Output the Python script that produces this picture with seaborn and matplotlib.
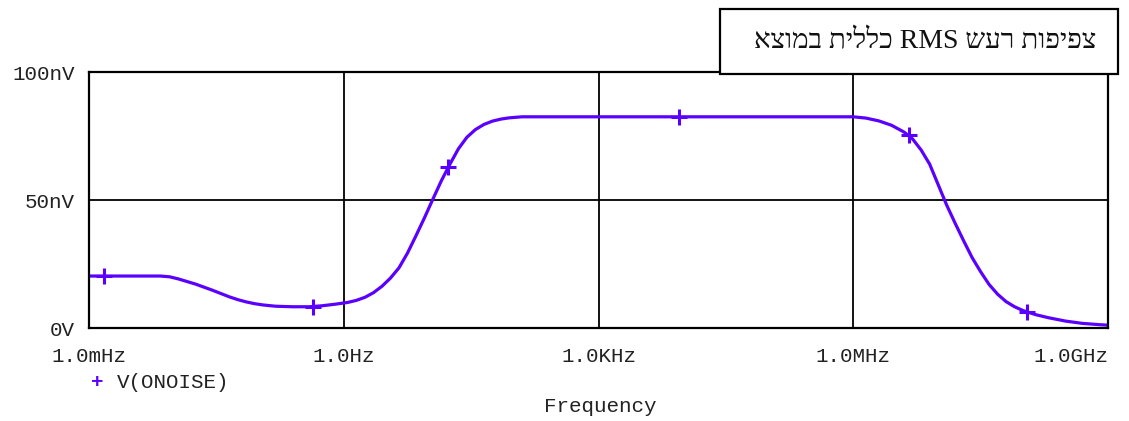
import matplotlib
matplotlib.use("Agg")
import matplotlib.pyplot as plt
from matplotlib.patches import Rectangle
import seaborn as sns

# output noise curve (Hz, nV)
freq_hz = [0.001, 0.0069, 0.0089, 0.0112, 0.0141, 0.0178, 0.0224, 0.0282, 0.0355,
           0.0447, 0.0562, 0.0708, 0.0891, 0.112, 0.158, 0.251, 0.398, 0.562, 0.794,
           1.12, 1.41, 1.78, 2.24, 2.82, 3.55, 4.47, 5.62, 7.08, 8.91, 11.2, 14.1,
           17.8, 22.4, 28.2, 35.5, 44.7, 56.2, 70.8, 89.1, 126,
           1e6, 1.41e6, 2.0e6, 2.82e6, 3.98e6, 5.01e6, 6.31e6, 7.94e6, 1e7, 1.26e7,
           1.58e7, 2.0e7, 2.51e7, 3.16e7, 3.98e7, 5.01e7, 6.31e7, 7.94e7, 1e8,
           1.41e8, 2.0e8, 3.16e8, 5.01e8, 7.94e8, 1e9]
noise_nv = [20.3, 20.3, 20.0, 19.2, 18.2, 17.2, 16.0, 14.8, 13.5,
            12.2, 11.1, 10.2, 9.5, 9.0, 8.5, 8.3, 8.3, 8.7, 9.3,
            10.0, 10.8, 12.0, 13.8, 16.3, 19.5, 23.5, 29.2, 36.0, 43.0, 50.3, 57.5,
            64.0, 70.0, 74.5, 77.5, 79.5, 80.8, 81.6, 82.1, 82.5,
            82.5, 82.0, 80.9, 79.2, 76.5, 73.8, 69.5, 64.0, 56.0, 48.0,
            41.0, 34.0, 27.5, 22.0, 17.0, 13.2, 10.3, 8.3, 6.8,
            5.2, 4.0, 2.7, 1.8, 1.3, 1.1]

# trace markers (PSpice style "+")
marker_hz = [0.0015, 0.43, 17, 8900, 4.5e6, 1.1e8]
marker_nv = [20.3, 8.3, 63.0, 82.5, 75.4, 6.4]

x_ticks = [1e-3, 1, 1e3, 1e6, 1e9]
x_labels = ["1.0mHz", "1.0Hz", "1.0KHz", "1.0MHz", "1.0GHz"]
y_ticks = [0, 50, 100]
y_labels = ["0V", "50nV", "100nV"]

trace_name = "V(ONOISE)"
box_title = "צפיפות רעש RMS כללית במוצא"

color = "#5a00ff"
mono = ["Liberation Mono", "DejaVu Sans Mono"]


def visual_rtl(s):
    # matplotlib has no bidi support, so put the Hebrew words in display order
    out = []
    for w in reversed(s.split(" ")):
        if any("\u0590" <= c <= "\u05ff" for c in w):
            w = w[::-1]
        out.append(w)
    return " ".join(out)


sns.set_style("white")
plt.rcParams["font.family"] = mono

fig = plt.figure(figsize=(11.29, 4.21), dpi=100)
ax = fig.add_axes([89 / 1129, 93 / 421, 1019 / 1129, 256 / 421])

sns.lineplot(x=freq_hz, y=noise_nv, ax=ax, color=color, linewidth=2.3, legend=False)
ax.plot(marker_hz, marker_nv, linestyle="none", marker="+", markersize=11,
        markeredgewidth=2.2, color=color)

ax.set_xscale("log")
ax.set_xlim(1e-3, 1e9)
ax.set_ylim(0, 100)
ax.set_xticks(x_ticks)
ax.set_xticklabels(x_labels)
ax.minorticks_off()
ax.set_yticks(y_ticks)
ax.set_yticklabels(y_labels)
ax.tick_params(axis="both", direction="out", length=6, width=1.3, color="black",
               labelsize=15, labelcolor="#222222", pad=4)
ax.tick_params(axis="x", pad=8)
ax.get_xticklabels()[-1].set_horizontalalignment("right")
ax.grid(True, color="black", linewidth=1.3)
for sp in ax.spines.values():
    sp.set_visible(True)
    sp.set_color("black")
    sp.set_linewidth(1.6)
ax.set_xlabel("")
ax.set_ylabel("")

fig.text(600 / 1129, 1 - 407 / 421, "Frequency", ha="center", va="center",
         fontsize=15, color="#222222")
fig.text(97 / 1129, 1 - 382 / 421, "+", ha="center", va="center",
         fontsize=15, color=color, fontweight="bold")
fig.text(117 / 1129, 1 - 383 / 421, trace_name, ha="left", va="center",
         fontsize=15, color="#222222")

box = Rectangle((720 / 1129, 1 - 74 / 421), 398 / 1129, 65 / 421,
                transform=fig.transFigure, facecolor="white", edgecolor="black",
                linewidth=1.6, zorder=5)
fig.patches.append(box)
fig.text(925 / 1129, 1 - 42 / 421, visual_rtl(box_title), ha="center", va="center",
         fontsize=20, color="#111111", zorder=6,
         family=["Liberation Serif", "DejaVu Serif", "DejaVu Sans"])

fig.savefig("out.png", dpi=100)
